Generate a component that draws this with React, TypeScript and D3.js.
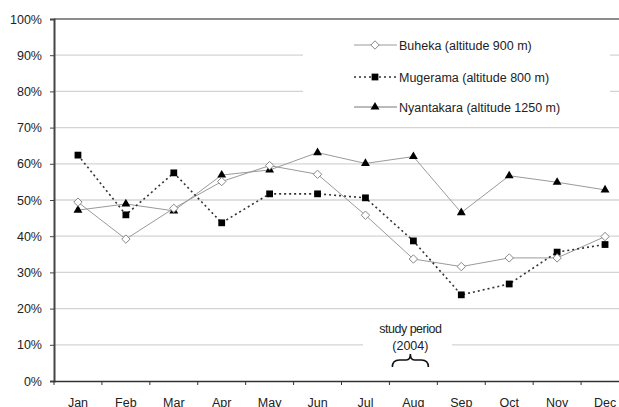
import { useEffect, useRef } from 'react';
import * as d3 from 'd3';

const months = ['Jan', 'Feb', 'Mar', 'Apr', 'May', 'Jun', 'Jul', 'Aug', 'Sep', 'Oct', 'Nov', 'Dec'];
const buheka = [0.494, 0.392, 0.477, 0.551, 0.595, 0.571, 0.458, 0.337, 0.316, 0.34, 0.34, 0.399];
const mugerama = [0.624, 0.459, 0.575, 0.437, 0.517, 0.517, 0.506, 0.387, 0.238, 0.268, 0.356, 0.377];
const nyantakara = [0.472, 0.489, 0.47, 0.569, 0.583, 0.631, 0.601, 0.62, 0.465, 0.567, 0.549, 0.528];
const yTicks = [0, 0.1, 0.2, 0.3, 0.4, 0.5, 0.6, 0.7, 0.8, 0.9, 1];
const legendLabels = ['Buheka (altitude 900 m)', 'Mugerama (altitude 800 m)', 'Nyantakara (altitude 1250 m)'];

const FONT = '"Liberation Sans", Arial, sans-serif';

// square diamond (rotated square), d3's diamond is too tall
const diamondPath = 'M0,-4.2L4.2,0L0,4.2L-4.2,0Z';

const App = () => {
  const svgRef = useRef<SVGSVGElement>(null);

  useEffect(() => {
    const svg = d3.select(svgRef.current);
    svg.selectAll('*').remove();

    const left = 54, top = 19, bottom = 381, right = 629;
    const x = d3.scaleBand().domain(months).range([left, right]).padding(0);
    const y = d3.scaleLinear().domain([0, 1]).range([bottom, top]);
    const cx = (i: number) => (x(months[i]) as number) + x.bandwidth() / 2;

    // gridlines
    svg.append('g')
      .selectAll('line')
      .data(yTicks.filter(t => t > 0 && t < 1))
      .enter()
      .append('line')
      .attr('x1', left).attr('x2', right)
      .attr('y1', d => y(d)).attr('y2', d => y(d))
      .style('stroke', '#d4d4d4')
      .style('stroke-width', 1.3);

    // frame top
    svg.append('line')
      .attr('x1', left).attr('x2', right)
      .attr('y1', y(1)).attr('y2', y(1))
      .style('stroke', '#666').style('stroke-width', 1.5);

    // y axis
    const yAxis = svg.append('g').attr('transform', `translate(${left},0)`)
      .call(d3.axisLeft(y).tickValues(yTicks).tickFormat(d => Math.round(+d * 100) + '%').tickSize(4).tickPadding(8));
    yAxis.select('.domain').style('stroke', '#444').style('stroke-width', 2);
    yAxis.selectAll('.tick line').style('stroke', '#444');
    yAxis.selectAll('text').style('font-family', FONT).style('font-size', '12.5px').style('fill', '#222');

    // x axis
    const xAxis = svg.append('g').attr('transform', `translate(0,${bottom})`)
      .call(d3.axisBottom(x).tickSize(0).tickPadding(17));
    xAxis.select('.domain').style('stroke', '#333').style('stroke-width', 1.5);
    xAxis.selectAll('text').style('font-family', FONT).style('font-size', '12.5px').style('fill', '#222');
    svg.append('g')
      .selectAll('line')
      .data(d3.range(months.length + 1))
      .enter()
      .append('line')
      .attr('x1', i => left + i * x.bandwidth()).attr('x2', i => left + i * x.bandwidth())
      .attr('y1', bottom).attr('y2', bottom + 4)
      .style('stroke', '#333');

    // study period annotation
    svg.append('rect').attr('x', 363).attr('y', 318).attr('width', 89).attr('height', 34).style('fill', '#fff');
    const bx = cx(7) - 3;
    svg.append('text').attr('x', bx).attr('y', 333).attr('text-anchor', 'middle')
      .style('font-family', FONT).style('font-size', '12.5px').style('letter-spacing', '-0.5px').style('fill', '#222')
      .text('study period');
    svg.append('text').attr('x', bx).attr('y', 350).attr('text-anchor', 'middle')
      .style('font-family', FONT).style('font-size', '12.5px').style('fill', '#222')
      .text('(2004)');
    svg.append('path')
      .attr('d', `M${bx - 18},367 Q${bx - 18},360 ${bx - 11},360 L${bx - 4},360 Q${bx},360 ${bx},354 Q${bx},360 ${bx + 4},360 L${bx + 11},360 Q${bx + 18},360 ${bx + 18},367`)
      .style('fill', 'none').style('stroke', '#111').style('stroke-width', 1.6);

    const line = d3.line<number>().x((d, i) => cx(i)).y(d => y(d));

    const square = d3.symbol().type(d3.symbolSquare).size(46);
    const triangle = d3.symbol().type(d3.symbolTriangle).size(34);

    // Buheka
    svg.append('path').attr('d', line(buheka))
      .style('fill', 'none').style('stroke', '#9a9a9a').style('stroke-width', 1);
    // Nyantakara
    svg.append('path').attr('d', line(nyantakara))
      .style('fill', 'none').style('stroke', '#9a9a9a').style('stroke-width', 1);
    // Mugerama
    svg.append('path').attr('d', line(mugerama))
      .style('fill', 'none').style('stroke', '#333').style('stroke-width', 1.6).style('stroke-dasharray', '2,3');

    svg.append('g').selectAll('path').data(nyantakara).enter().append('path')
      .attr('d', triangle)
      .attr('transform', (d, i) => `translate(${cx(i)},${y(d)})`)
      .style('fill', '#000');
    svg.append('g').selectAll('path').data(mugerama).enter().append('path')
      .attr('d', square)
      .attr('transform', (d, i) => `translate(${cx(i)},${y(d)})`)
      .style('fill', '#000');
    svg.append('g').selectAll('path').data(buheka).enter().append('path')
      .attr('d', diamondPath)
      .attr('transform', (d, i) => `translate(${cx(i)},${y(d)})`)
      .style('fill', '#fff').style('stroke', '#888').style('stroke-width', 1);

    // legend
    const lg = svg.append('g');
    lg.append('rect').attr('x', 303).attr('y', 28).attr('width', 307).attr('height', 92).style('fill', '#fff');
    const rows = [45, 77, 107];
    const styles = [
      { stroke: '#9a9a9a', dash: null, w: 1, sym: diamondPath, fill: '#fff', sstroke: '#888' },
      { stroke: '#333', dash: '2,3', w: 1.6, sym: square(), fill: '#000', sstroke: 'none' },
      { stroke: '#777', dash: null, w: 1, sym: triangle(), fill: '#000', sstroke: 'none' },
    ];
    legendLabels.forEach((label, i) => {
      const s = styles[i];
      const ly = rows[i];
      lg.append('line').attr('x1', 354).attr('x2', 397).attr('y1', ly).attr('y2', ly)
        .style('stroke', s.stroke).style('stroke-width', s.w).style('stroke-dasharray', s.dash);
      lg.append('path').attr('d', s.sym as string).attr('transform', `translate(375,${ly})`)
        .style('fill', s.fill).style('stroke', s.sstroke);
      lg.append('text').attr('x', 399).attr('y', ly + 4.5)
        .style('font-family', FONT).style('font-size', '12.5px').style('fill', '#222')
        .text(label);
    });
  }, []);

  return (
    <svg ref={svgRef} width={619} height={407}
      style={{ position: 'absolute', left: 0, top: 0, background: '#fff' }} />
  );
};

export default App;
